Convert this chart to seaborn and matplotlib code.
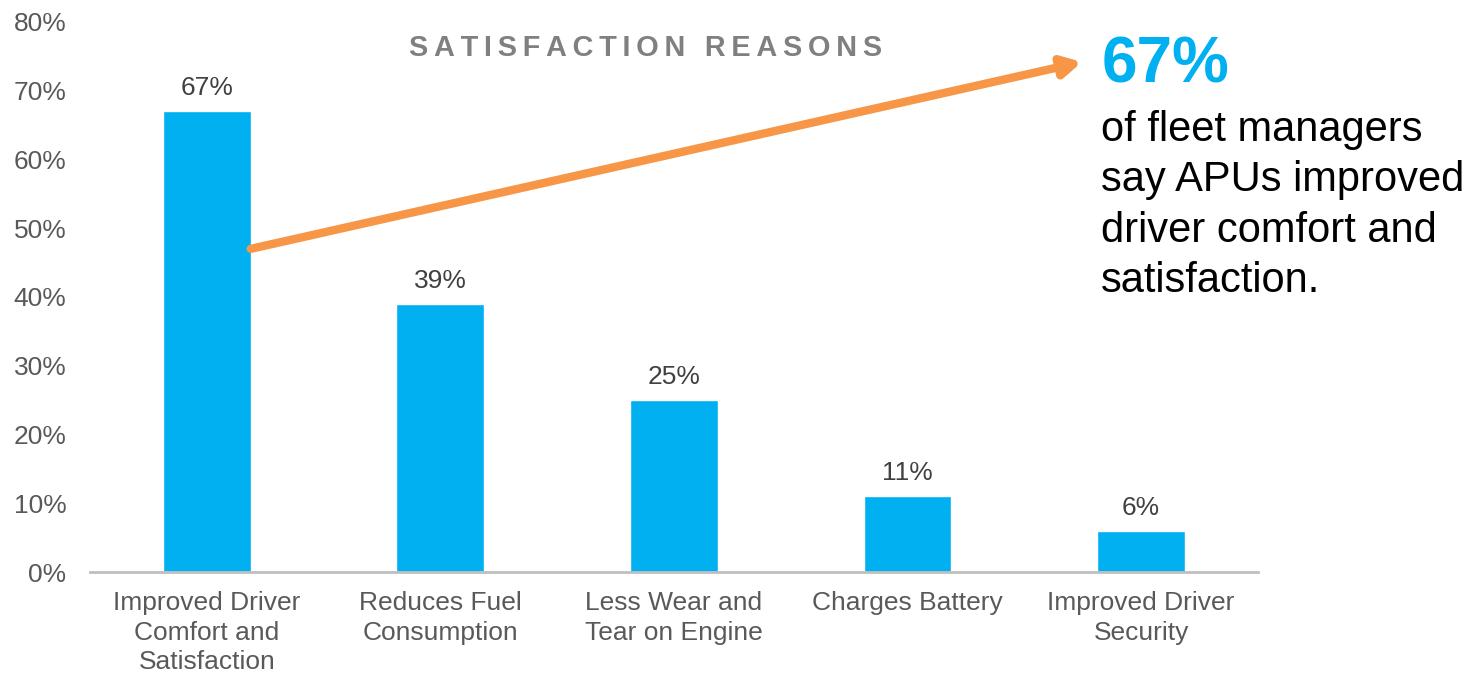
import numpy as np
import seaborn as sns
import matplotlib.pyplot as plt
import matplotlib.patheffects as pe

# chart data
categories = [
    "Improved Driver\nComfort and\nSatisfaction",
    "Reduces Fuel\nConsumption",
    "Less Wear and\nTear on Engine",
    "Charges Battery",
    "Improved Driver\nSecurity",
]
values = [67, 39, 25, 11, 6]
y_ticks = [0, 10, 20, 30, 40, 50, 60, 70, 80]
title = "SATISFACTION REASONS"
callout_value = "67%"
callout_text = "of fleet managers\nsay APUs improved\ndriver comfort and\nsatisfaction."

sns.set_style("white")
plt.rcParams["font.family"] = ["Liberation Sans", "DejaVu Sans"]

fig = plt.figure(figsize=(14.84, 6.74), dpi=100)
ax = fig.add_axes([0.0606, 0.1513, 0.7871, 0.8161])

bar_w = 0.376
sns.barplot(x=categories, y=values, color="#00B0F0", saturation=1,
            width=bar_w, ax=ax)

ax.set_xlim(-0.5, 4.5)
ax.set_ylim(0, 80)
ax.set_yticks(y_ticks)
ax.set_yticklabels([f"{t}%" for t in y_ticks])
ax.set_xlabel("")
ax.set_ylabel("")

for s in ["top", "right", "left"]:
    ax.spines[s].set_visible(False)
ax.spines["bottom"].set_color("#BFBFBF")
ax.spines["bottom"].set_linewidth(2)

ax.tick_params(axis="y", length=0, pad=17, labelsize=19, labelcolor="#595959")
ax.tick_params(axis="x", length=0, pad=14, labelsize=19, labelcolor="#595959")
for lbl in ax.get_xticklabels():
    lbl.set_linespacing(1.28)

# value labels above bars
for i, v in enumerate(values):
    ax.annotate(f"{v}%", (i, v), xytext=(0, 8), textcoords="offset points",
                ha="center", va="bottom", fontsize=19, color="#404040")

# spaced-out title
spaced = "\u2009".join(title)
ax.text(1.88, 76.2, spaced, ha="center", va="center", fontsize=20.8,
        fontweight="bold", color="#808080")

# callout
fig.text(0.742, 0.903, callout_value, ha="left", va="center", fontsize=46,
         fontweight="bold", color="#00B0F0")
fig.text(0.742, 0.837, callout_text, ha="left", va="top", fontsize=30,
         color="black", linespacing=1.34)

# orange arrow from first bar to callout
ax.annotate("", xy=(0.729, 0.908), xycoords="figure fraction",
            xytext=(bar_w / 2, 47), textcoords="data",
            arrowprops=dict(arrowstyle="-|>,head_length=1.1,head_width=0.6",
                            color="#F79646", lw=6, shrinkA=0, shrinkB=0,
                            path_effects=[pe.SimplePatchShadow(offset=(1.5, -2.5), alpha=0.25),
                                          pe.Normal()]))

fig.savefig("out.png", dpi=100)
